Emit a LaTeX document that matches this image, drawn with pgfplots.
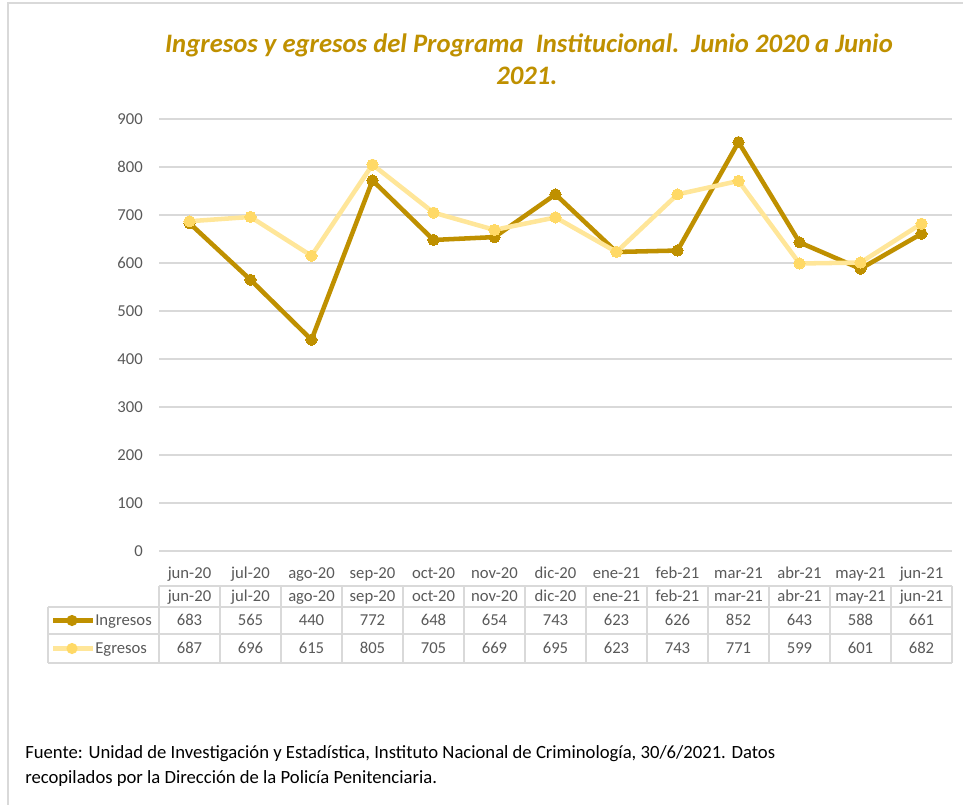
\documentclass[border=0pt]{standalone}
\usepackage{pgfplots}
\pgfplotsset{compat=1.18}
\usepackage{pgfplotstable}
\usepackage{fontspec}
\setmainfont{Carlito}
\definecolor{ing}{HTML}{BF9000}
\definecolor{egl}{HTML}{FFE699}
\definecolor{egm}{HTML}{FFD966}
\definecolor{gridc}{HTML}{D9D9D9}
\definecolor{txt}{HTML}{595959}
\definecolor{frame}{HTML}{D9D9D9}

\pgfplotstableread[col sep=comma]{
idx,mes,ing,egr
0,jun-20,683,687
1,jul-20,565,696
2,ago-20,440,615
3,sep-20,772,805
4,oct-20,648,705
5,nov-20,654,669
6,dic-20,743,695
7,ene-21,623,623
8,feb-21,626,743
9,mar-21,852,771
10,abr-21,643,599
11,may-21,588,601
12,jun-21,661,682
}\datatable

\begin{document}
\begin{tikzpicture}
\begin{scope}[x=0.75pt,y=-0.75pt]
\path[use as bounding box] (0,0) rectangle (963,805);
% frame
\draw[frame, line width=1.5pt] (8,805) -- (8,3) -- (963,3);
% title
\node[font=\fontsize{20}{24}\selectfont\bfseries\itshape, text=ing] at (529,45) {Ingresos y egresos del Programa\ \ Institucional.\ \ Junio 2020 a Junio};
\node[font=\fontsize{20}{24}\selectfont\bfseries\itshape, text=ing] at (527,76) {2021.};
\end{scope}
\begin{axis}[
  at={(119.25pt,-413.25pt)}, anchor=south west,
  scale only axis, width=594.75pt, height=324pt,
  xmin=-0.5, xmax=12.5, ymin=0, ymax=900,
  axis line style={draw=none},
  ytick={0,100,...,900},
  xtick={0,...,12},
  xticklabels from table={\datatable}{mes},
  ymajorgrids, grid style={gridc, line width=1.1pt},
  major tick length=0pt,
  /pgf/number format/assume math mode=true,
  tick label style={font=\fontsize{12.5}{15}\selectfont, text=txt},
  yticklabel style={anchor=east, inner sep=0pt, xshift=-12pt},
  xticklabel style={anchor=base, inner sep=0pt, yshift=-20.6pt},
  clip=false,
]
\addplot[ing, line width=3.4pt, mark=*, mark size=4.2pt, mark options={fill=ing, draw=ing, line width=0pt}] table[x=idx, y=ing] {\datatable};
\addplot[egl, line width=3.4pt, mark=*, mark size=4.2pt, mark options={fill=egm, draw=egm, line width=0pt}] table[x=idx, y=egr] {\datatable};
\end{axis}
\begin{scope}[x=0.75pt,y=-0.75pt]
% data table
\begin{scope}[gridc, line width=1.1pt]
\draw (159,586) -- (952,586);
\draw (48,607) -- (952,607);
\draw (48,634) -- (952,634);
\draw (48,663) -- (952,663);
\draw (48,607) -- (48,663);
\foreach \k in {0,...,13} { \draw (159+61*\k,586) -- (159+61*\k,663); }
\end{scope}
\foreach \i in {0,...,12} {
  \pgfplotstablegetelem{\i}{mes}\of\datatable
  \node[font=\fontsize{12.5}{15}\selectfont, text=txt, inner sep=0pt, anchor=base] at (189.5+61*\i,601) {\pgfplotsretval};
  \pgfplotstablegetelem{\i}{ing}\of\datatable
  \node[font=\fontsize{12.5}{15}\selectfont, text=txt, inner sep=0pt, anchor=base] at (189.5+61*\i,625) {\pgfplotsretval};
  \pgfplotstablegetelem{\i}{egr}\of\datatable
  \node[font=\fontsize{12.5}{15}\selectfont, text=txt, inner sep=0pt, anchor=base] at (189.5+61*\i,653) {\pgfplotsretval};
}
% legend keys
\draw[ing, line width=3.4pt] (53,620.5) -- (93,620.5);
\fill[ing] (72,620.5) circle (5.6);
\draw[egl, line width=3.4pt] (53,648.5) -- (93,648.5);
\fill[egm] (72,648.5) circle (5.6);
\node[font=\fontsize{12.5}{15}\selectfont, text=txt, inner sep=0pt, anchor=base west] at (95,625) {Ingresos};
\node[font=\fontsize{12.5}{15}\selectfont, text=txt, inner sep=0pt, anchor=base west] at (95,653) {Egresos};
% source
\node[font=\fontsize{14}{18.75}\selectfont, text=black, inner sep=0pt, anchor=north west, align=left] at (25,745) {Fuente: Unidad de Investigación y Estadística, Instituto Nacional de Criminología, 30/6/2021. Datos\\recopilados por la Dirección de la Policía Penitenciaria.};
\end{scope}
\end{tikzpicture}
\end{document}
